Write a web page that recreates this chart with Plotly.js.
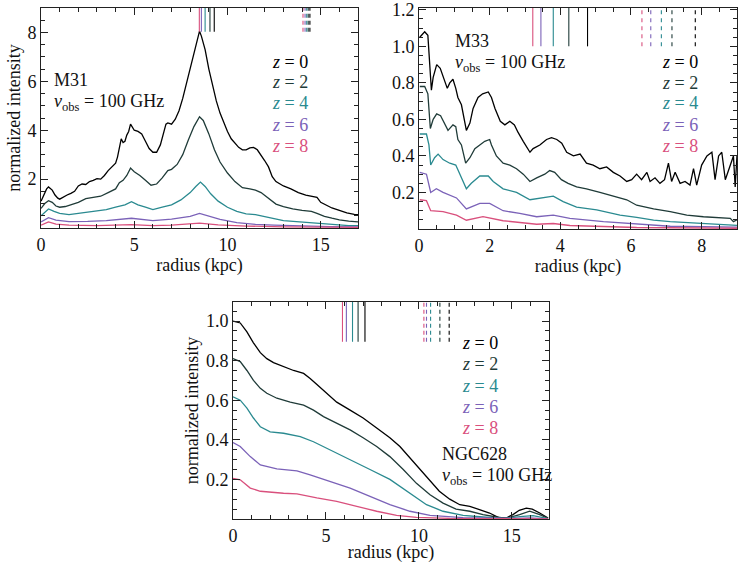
<!DOCTYPE html>
<html>
<head>
<meta charset="utf-8">
<script src="https://cdn.plot.ly/plotly-3.0.1.min.js"></script>
<style>
  html, body { margin: 0; padding: 0; background: #fff; }
  #plot { width: 738px; height: 563px; }
</style>
</head>
<body>
<div id="plot"></div>
<script>
// series labels and colours
let zLabels = ["0", "2", "4", "6", "8"];
let zColors = ["#000000", "#1f3b38", "#2a8a90", "#7b62b8", "#d9507d"];

// ---- M31 (radius kpc, normalized intensity) ----
let m31R0 = [0.0,0.15,0.3,0.4,0.5,0.6,0.75,0.9,1.0,1.2,1.4,1.6,1.8,2.0,2.2,2.4,2.6,2.8,3.0,3.2,3.4,3.6,3.8,4.0,4.1,4.2,4.3,4.4,4.5,4.6,4.7,4.8,4.9,5.0,5.2,5.4,5.6,5.8,6.0,6.2,6.4,6.6,6.7,6.8,7.0,7.2,7.4,7.6,7.8,8.0,8.2,8.4,8.5,8.6,8.8,9.0,9.2,9.4,9.6,9.8,10.0,10.2,10.4,10.6,10.8,11.0,11.2,11.4,11.6,11.8,12.0,12.2,12.4,12.6,12.8,13.0,13.4,13.8,14.2,14.6,14.8,15.0,15.3,15.6,16.0,16.4,16.8,17.0];
let m31Z0 = [1.1,1.35,1.6,1.68,1.62,1.55,1.35,1.22,1.18,1.28,1.35,1.42,1.5,1.72,1.8,1.78,1.9,1.95,2.02,2.0,2.15,2.35,2.5,2.65,2.9,3.3,3.65,3.5,3.55,3.8,3.95,4.25,4.1,4.0,3.95,3.85,3.55,3.25,3.1,3.1,3.4,3.9,4.25,4.3,4.25,4.45,4.8,5.3,5.9,6.5,7.2,7.75,8.05,7.85,7.3,6.5,5.8,5.2,4.7,4.3,3.95,3.65,3.45,3.3,3.2,3.2,3.28,3.3,3.2,3.0,2.75,2.5,2.1,1.9,1.8,1.72,1.6,1.45,1.35,1.3,1.25,1.05,0.92,0.82,0.72,0.62,0.56,0.55];
let m31R2 = [0.0,0.2,0.4,0.6,0.8,1.0,1.3,1.6,2.0,2.4,2.8,3.2,3.6,4.0,4.2,4.4,4.6,4.8,5.0,5.3,5.6,5.9,6.2,6.5,6.8,7.0,7.3,7.6,7.9,8.2,8.5,8.7,9.0,9.3,9.6,10.0,10.4,10.8,11.2,11.5,11.8,12.2,12.6,13.0,13.5,14.0,14.5,14.8,15.2,15.6,16.0,16.5,17.0];
let m31Z2 = [0.8,1.0,1.12,1.05,0.9,0.85,0.88,0.95,1.05,1.2,1.25,1.3,1.45,1.6,1.85,1.95,2.15,2.45,2.3,2.15,1.95,1.75,1.8,2.05,2.35,2.4,2.6,3.0,3.6,4.15,4.55,4.4,3.85,3.2,2.7,2.25,1.9,1.65,1.6,1.55,1.45,1.2,0.98,0.88,0.78,0.72,0.68,0.6,0.48,0.4,0.33,0.28,0.25];
let m31R4 = [0.0,0.2,0.4,0.7,1.0,1.5,2.0,2.5,3.0,3.5,4.0,4.5,4.85,5.2,5.6,6.0,6.5,7.0,7.5,8.0,8.3,8.55,8.8,9.1,9.5,10.0,10.5,11.0,11.5,12.0,12.5,13.0,13.5,14.5,15.5,16.5,17.0];
let m31Z4 = [0.5,0.65,0.78,0.68,0.6,0.55,0.6,0.65,0.7,0.75,0.85,0.95,1.08,0.95,0.85,0.75,0.85,0.95,1.15,1.45,1.7,1.88,1.7,1.4,1.1,0.85,0.68,0.58,0.55,0.48,0.38,0.3,0.27,0.22,0.14,0.1,0.1];
let m31R6 = [0.0,0.4,0.8,1.5,2.5,3.5,4.85,5.5,6.0,7.0,8.0,8.5,9.0,9.6,10.5,11.5,12.5,14.0,15.5,17.0];
let m31Z6 = [0.25,0.42,0.32,0.26,0.27,0.3,0.4,0.35,0.3,0.36,0.48,0.6,0.5,0.35,0.22,0.15,0.12,0.08,0.06,0.05];
let m31R8 = [0.0,0.4,0.8,1.5,3.0,4.85,6.0,7.0,8.5,9.5,11.0,13.0,17.0];
let m31Z8 = [0.12,0.25,0.16,0.12,0.1,0.14,0.1,0.12,0.2,0.13,0.08,0.05,0.03];
let m31Solid = [8.49, 8.6, 8.8, 9.06, 9.29];
let m31Dashed = [14.05, 14.16, 14.25, 14.33, 14.42];

// ---- M33 ----
let m33R0 = [0.02,0.16,0.25,0.3,0.35,0.4,0.5,0.6,0.7,0.8,0.87,0.96,1.04,1.1,1.2,1.3,1.34,1.44,1.53,1.67,1.8,1.96,2.05,2.15,2.3,2.43,2.57,2.7,2.8,2.95,3.14,3.23,3.42,3.61,3.75,3.9,4.04,4.18,4.37,4.56,4.74,4.93,5.12,5.31,5.5,5.69,5.88,6.02,6.16,6.3,6.45,6.54,6.68,6.82,6.95,7.06,7.15,7.25,7.39,7.53,7.67,7.77,7.86,8.0,8.15,8.29,8.38,8.48,8.57,8.67,8.8,8.9,8.95,9.0];
let m33Z0 = [1.05,1.08,1.06,0.9,0.76,0.83,0.9,0.88,0.83,0.77,0.8,0.82,0.77,0.72,0.68,0.59,0.54,0.58,0.66,0.72,0.74,0.75,0.72,0.66,0.59,0.57,0.59,0.57,0.53,0.48,0.42,0.44,0.46,0.49,0.5,0.49,0.47,0.42,0.4,0.41,0.36,0.35,0.33,0.34,0.31,0.29,0.26,0.27,0.3,0.27,0.31,0.26,0.28,0.25,0.27,0.36,0.26,0.31,0.25,0.26,0.24,0.33,0.24,0.35,0.4,0.42,0.27,0.4,0.42,0.27,0.35,0.4,0.23,0.4];
let m33R2 = [0.02,0.16,0.25,0.32,0.4,0.5,0.61,0.73,0.82,0.96,1.04,1.1,1.2,1.32,1.44,1.58,1.72,1.86,2.0,2.05,2.19,2.38,2.57,2.76,2.95,3.14,3.33,3.56,3.7,3.84,4.03,4.22,4.46,4.74,5.12,5.5,5.88,6.16,6.64,7.11,7.58,8.05,8.52,8.81,8.9,9.0];
let m33Z2 = [0.78,0.78,0.74,0.55,0.6,0.63,0.62,0.57,0.54,0.57,0.56,0.49,0.46,0.36,0.39,0.44,0.46,0.48,0.49,0.46,0.4,0.36,0.35,0.33,0.3,0.26,0.28,0.3,0.32,0.31,0.27,0.25,0.23,0.22,0.2,0.18,0.16,0.13,0.11,0.095,0.076,0.067,0.063,0.058,0.04,0.05];
let m33R4 = [0.02,0.21,0.28,0.33,0.44,0.54,0.68,0.87,1.04,1.13,1.34,1.48,1.72,1.96,2.1,2.38,2.76,3.14,3.52,3.8,4.08,4.46,5.03,5.69,6.16,6.64,7.11,8.05,9.0];
let m33Z4 = [0.52,0.52,0.46,0.35,0.39,0.41,0.38,0.36,0.35,0.31,0.22,0.25,0.29,0.29,0.26,0.22,0.2,0.16,0.17,0.18,0.15,0.12,0.105,0.076,0.063,0.048,0.04,0.03,0.02];
let m33R6 = [0.02,0.21,0.33,0.49,0.68,1.06,1.34,1.72,2.0,2.38,2.85,3.33,3.8,4.27,5.22,6.16,7.11,9.0];
let m33Z6 = [0.31,0.3,0.2,0.22,0.2,0.17,0.11,0.14,0.14,0.1,0.085,0.067,0.076,0.058,0.04,0.026,0.015,0.01];
let m33R8 = [0.02,0.21,0.33,0.68,1.06,1.34,1.81,2.38,3.33,3.8,4.27,6.16,9.0];
let m33Z8 = [0.16,0.155,0.1,0.095,0.076,0.048,0.067,0.045,0.026,0.03,0.019,0.008,0.004];
let m33Solid = [3.22, 3.45, 3.8, 4.24, 4.77];
let m33Dashed = [6.31, 6.56, 6.86, 7.16, 7.82];

// ---- NGC628 ----
let n628R0 = [0.0,0.39,0.75,1.1,1.47,1.82,2.18,2.72,3.26,3.8,4.15,4.5,5.04,5.58,6.3,7.0,7.73,8.44,8.98,9.5,10.05,10.6,11.1,11.66,12.2,12.74,13.27,13.8,14.35,14.7,15.06,15.4,15.78,16.1,16.5,16.95];
let n628Z0 = [1.0,0.99,0.945,0.89,0.84,0.81,0.79,0.77,0.75,0.735,0.71,0.68,0.635,0.59,0.55,0.51,0.46,0.41,0.366,0.31,0.25,0.19,0.14,0.1,0.072,0.064,0.047,0.03,0.005,0.005,0.022,0.044,0.055,0.05,0.03,0.005];
let n628R2 = [0.0,0.39,0.75,1.1,1.47,1.82,2.36,3.08,3.8,4.33,4.87,5.58,6.3,7.0,7.73,8.44,9.16,9.87,10.6,11.3,12.0,12.74,13.45,14.17,14.7,15.42,15.96,16.5,16.95];
let n628Z2 = [0.81,0.795,0.75,0.7,0.66,0.635,0.61,0.59,0.575,0.55,0.517,0.483,0.45,0.41,0.366,0.315,0.25,0.18,0.122,0.08,0.05,0.039,0.022,0.01,0.003,0.022,0.039,0.022,0.003];
let n628R4 = [0.0,0.39,0.75,1.1,1.47,2.0,2.72,3.62,4.33,5.22,6.3,7.37,8.44,9.52,10.41,11.3,12.38,13.45,14.53,15.6,16.14,16.95];
let n628Z4 = [0.617,0.6,0.56,0.51,0.466,0.44,0.433,0.416,0.39,0.35,0.3,0.25,0.2,0.13,0.072,0.039,0.018,0.01,0.003,0.013,0.017,0.002];
let n628R6 = [0.0,0.39,0.93,1.47,2.36,3.44,4.15,5.22,6.3,7.37,8.44,9.52,10.6,12.38,15.24,15.96,16.95];
let n628Z6 = [0.386,0.366,0.315,0.273,0.253,0.243,0.223,0.19,0.156,0.114,0.072,0.039,0.018,0.007,0.003,0.006,0.0];
let n628R8 = [0.0,0.39,0.93,1.47,2.72,3.44,4.51,5.58,6.66,7.73,8.8,9.87,11.66,16.95];
let n628Z8 = [0.205,0.198,0.156,0.14,0.13,0.127,0.106,0.089,0.064,0.039,0.018,0.008,0.003,0.0];
let n628Solid = [5.89, 6.1, 6.43, 6.73, 7.1];
let n628Dashed = [10.27, 10.41, 10.63, 11.13, 11.63];

let serif = "Liberation Serif";
let traces = [];

function addCurves(rs, vs, xa, ya) {
    for (let i = 0; i < rs.length; i++) {
        traces.push({
            x: rs[i], y: vs[i], xaxis: xa, yaxis: ya,
            type: "scatter", mode: "lines", hoverinfo: "skip",
            line: {color: zColors[i], width: 1.3},
            showlegend: false
        });
    }
}

// short vertical markers hanging from the top axis
function addMarkers(xs, y0, y1, dash, xa, ya) {
    for (let i = 0; i < xs.length; i++) {
        traces.push({
            x: [xs[i], xs[i]], y: [y0, y1], xaxis: xa, yaxis: ya,
            type: "scatter", mode: "lines", hoverinfo: "skip",
            line: {color: zColors[zColors.length - 1 - i], width: 1.1, dash: dash},
            showlegend: false
        });
    }
}

addCurves([m31R0, m31R2, m31R4, m31R6, m31R8], [m31Z0, m31Z2, m31Z4, m31Z6, m31Z8], "x", "y");
addMarkers(m31Solid, 8.03, 9, "solid", "x", "y");
addMarkers(m31Dashed, 8.03, 9, "4px,3px", "x", "y");

addCurves([m33R0, m33R2, m33R4, m33R6, m33R8], [m33Z0, m33Z2, m33Z4, m33Z6, m33Z8], "x2", "y2");
addMarkers(m33Solid, 1.0, 1.21, "solid", "x2", "y2");
addMarkers(m33Dashed, 1.0, 1.21, "4px,4px", "x2", "y2");

addCurves([n628R0, n628R2, n628R4, n628R6, n628R8], [n628Z0, n628Z2, n628Z4, n628Z6, n628Z8], "x3", "y3");
addMarkers(n628Solid, 0.895, 1.096, "solid", "x3", "y3");
addMarkers(n628Dashed, 0.895, 1.096, "4px,3px", "x3", "y3");

function axis(extra) {
    let a = {
        showline: true, mirror: "allticks", linecolor: "#222", linewidth: 1,
        ticks: "inside", ticklen: 7, tickwidth: 1, tickcolor: "#222",
        showgrid: false, zeroline: false, fixedrange: true,
        tickfont: {family: serif, size: 18, color: "#111"}
    };
    return Object.assign(a, extra);
}

function minorTicks(step) {
    return {ticks: "inside", ticklen: 4, tickcolor: "#222", dtick: step, showgrid: false};
}

function xTitle() {
    return {text: "radius (kpc)", font: {family: serif, size: 18, color: "#111"}, standoff: 3};
}
function yTitle() {
    return {text: "normalized intensity", font: {family: serif, size: 18, color: "#111"}, standoff: 2};
}

let annotations = [];
function addText(x, y, text, color, anchor, xr, yr) {
    annotations.push({
        x: x, y: y, xref: xr, yref: yr, text: text, showarrow: false,
        xanchor: anchor, yanchor: "middle",
        font: {family: serif, size: 18, color: color}
    });
}
function addLegend(xRight, ys, xr, yr) {
    for (let i = 0; i < zLabels.length; i++) {
        addText(xRight, ys[i], "<i>z</i> = " + zLabels[i], zColors[i], "right", xr, yr);
    }
}

addText(0.6, 6.05, "M31", "#111", "left", "x", "y");
addText(0.6, 5.15, "<i>ν</i><sub>obs</sub> = 100 GHz", "#111", "left", "x", "y");
addLegend(14.4, [6.79, 5.97, 5.1, 4.2, 3.35], "x", "y");

addText(0.96, 1.03, "M33", "#111", "left", "x2", "y2");
addText(0.96, 0.905, "<i>ν</i><sub>obs</sub> = 100 GHz", "#111", "left", "x2", "y2");
addLegend(7.96, [0.915, 0.8, 0.69, 0.57, 0.455], "x2", "y2");

addText(11.13, 0.33, "NGC628", "#111", "left", "x3", "y3");
addText(11.13, 0.215, "<i>ν</i><sub>obs</sub> = 100 GHz", "#111", "left", "x3", "y3");
addLegend(14.35, [0.889, 0.784, 0.673, 0.568, 0.462], "x3", "y3");

let layout = {
    width: 738, height: 563,
    margin: {l: 0, r: 0, t: 0, b: 0},
    paper_bgcolor: "#fff", plot_bgcolor: "#fff",
    font: {family: serif, size: 18, color: "#111"},
    showlegend: false,
    xaxis: axis({domain: [0.0556, 0.4851], anchor: "y", range: [0, 17], tickvals: [0, 5, 10, 15], minor: minorTicks(1), title: xTitle()}),
    yaxis: axis({domain: [0.595, 0.9858], anchor: "x", range: [0, 9], tickvals: [2, 4, 6, 8], minor: minorTicks(0.5), title: yTitle()}),
    xaxis2: axis({domain: [0.5678, 0.9986], anchor: "y2", range: [0, 9], tickvals: [0, 2, 4, 6, 8], minor: minorTicks(0.5), title: xTitle()}),
    yaxis2: axis({domain: [0.5933, 0.9858], anchor: "x2", range: [0, 1.21], tickvals: [0.2, 0.4, 0.6, 0.8, 1.0, 1.2], ticktext: ["0.2", "0.4", "0.6", "0.8", "1.0", "1.2"], minor: minorTicks(0.05)}),
    xaxis3: axis({domain: [0.3157, 0.7439], anchor: "y3", range: [0, 17], tickvals: [0, 5, 10, 15], minor: minorTicks(1), title: xTitle()}),
    yaxis3: axis({domain: [0.0782, 0.4636], anchor: "x3", range: [0, 1.096], tickvals: [0.2, 0.4, 0.6, 0.8, 1.0], ticktext: ["0.2", "0.4", "0.6", "0.8", "1.0"], minor: minorTicks(0.05), title: yTitle()}),
    annotations: annotations
};

Plotly.newPlot("plot", traces, layout, {staticPlot: true, displayModeBar: false});
</script>
</body>
</html>
